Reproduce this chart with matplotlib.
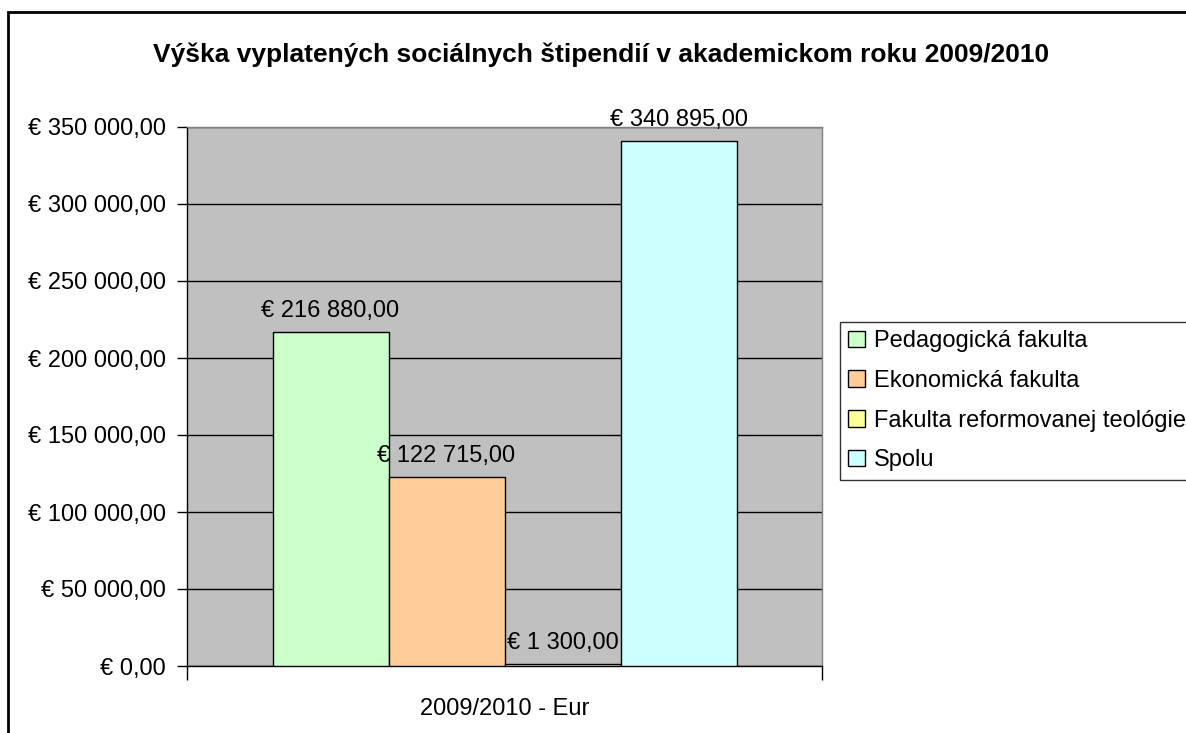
import matplotlib.pyplot as plt
from matplotlib.patches import Rectangle
from matplotlib.ticker import FuncFormatter, MultipleLocator

title = "Výška vyplatených sociálnych štipendií v akademickom roku 2009/2010"
category = "2009/2010 - Eur"
series_names = ["Pedagogická fakulta", "Ekonomická fakulta",
                "Fakulta reformovanej teológie", "Spolu"]
series_values = [216880.00, 122715.00, 1300.00, 340895.00]
series_colors = ["#CCFFCC", "#FFCC99", "#FFFF99", "#CCFFFF"]


def euro(v):
    whole = int(round(v * 100)) // 100
    cents = int(round(v * 100)) % 100
    s = f"{whole:,}".replace(",", " ")
    return f"€ {s},{cents:02d}"


plt.rcParams["font.family"] = ["Liberation Sans", "DejaVu Sans"]
FS = 17

W, H = 1186, 733
fig = plt.figure(figsize=(W / 100, H / 100), dpi=100)
ax = fig.add_axes([187 / W, 1 - 666 / H, 635 / W, 539 / H])
ax.set_facecolor("#C0C0C0")

bar_w = 116 / 635
offsets = [(i - 1.5) * bar_w for i in range(len(series_values))]
handles = []
for off, val, col, name in zip(offsets, series_values, series_colors, series_names):
    b = ax.bar(off, val, width=bar_w, color=col, edgecolor="black",
               linewidth=1, label=name, zorder=3)
    handles.append(b)
    ax.annotate(euro(val), (off, val), xytext=(0, 7), textcoords="offset points",
                ha="center", va="bottom", fontsize=FS, zorder=4)

ax.set_xlim(-0.5, 0.5)
ax.set_ylim(0, 350000)
ax.yaxis.set_major_locator(MultipleLocator(50000))
ax.yaxis.set_major_formatter(FuncFormatter(lambda v, p: euro(v)))
ax.grid(axis="y", color="black", linewidth=1, zorder=1)
ax.set_axisbelow(True)

ax.set_xticks([-0.5, 0.5])
ax.set_xticklabels([])
ax.tick_params(axis="x", direction="out", length=10, width=1, color="black")
ax.tick_params(axis="y", direction="out", length=7, width=1, color="black",
               labelsize=FS, pad=8)
ax.text(0.5, -0.06, category, transform=ax.transAxes, ha="center", va="top",
        fontsize=FS)

for side in ["top", "right"]:
    ax.spines[side].set_color("#808080")
for side in ["left", "bottom"]:
    ax.spines[side].set_color("black")
for sp in ax.spines.values():
    sp.set_linewidth(1)

fig.text(601 / W, 1 - 55 / H, title, ha="center", va="center",
         fontsize=19, fontweight="bold")

leg = fig.legend(handles=handles, labels=series_names, loc="upper left",
                 bbox_to_anchor=(840 / W, 1 - 322 / H), fontsize=FS,
                 frameon=True, fancybox=False, handlelength=0.7,
                 handleheight=0.7, handletextpad=0.4, borderpad=0.35,
                 labelspacing=0.75, borderaxespad=0)
leg.get_frame().set_edgecolor("black")
leg.get_frame().set_linewidth(1)

frame = Rectangle((8 / W, -0.05), 1.2, 1 - 12 / H + 0.05, transform=fig.transFigure,
                  fill=False, edgecolor="black", linewidth=2, clip_on=False)
fig.patches.append(frame)

fig.savefig("out.png", dpi=100)
